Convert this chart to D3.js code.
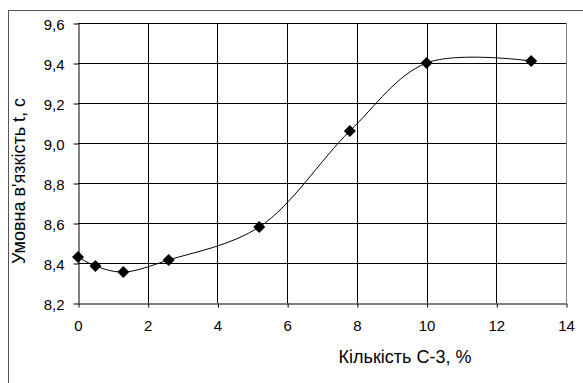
<!DOCTYPE html>
<html>
<head>
<meta charset="utf-8">
<script src="https://cdn.jsdelivr.net/npm/d3@7"></script>
<style>
  body { margin: 0; background: #fff; }
  svg { font-family: "Liberation Sans", Arial, sans-serif; }
</style>
</head>
<body>
<div id="chart"></div>
<script>
// values
var xValues = [0, 0.5, 1.3, 2.6, 5.2, 7.8, 10, 13];
var yValues = [8.43, 8.385, 8.355, 8.415, 8.58, 9.06, 9.40, 9.41];
var xTicks = [0, 2, 4, 6, 8, 10, 12, 14];
var yTicks = [8.2, 8.4, 8.6, 8.8, 9.0, 9.2, 9.4, 9.6];
var xTitle = "Кількість С-3, %";
var yTitle = "Умовна в'язкість t, с";

var chartWidth = 583, chartHeight = 383;
var margin = {top: 23, right: 17, bottom: 80, left: 78},
    width  = chartWidth - margin.left - margin.right,
    height = chartHeight - margin.top - margin.bottom;

var svg = d3.select("#chart").append("svg")
    .attr("width", chartWidth)
    .attr("height", chartHeight);

// outer chart frame (cropped on the right and bottom)
svg.append("rect")
    .attr("x", 8.5).attr("y", 10.5)
    .attr("width", 600).attr("height", 400)
    .attr("fill", "none")
    .attr("stroke", "#555")
    .attr("stroke-width", 1);

var g = svg.append("g")
    .attr("transform", "translate(" + margin.left + "," + margin.top + ")");

var x = d3.scaleLinear().domain([0, 14]).range([0, width]);
var y = d3.scaleLinear().domain([8.2, 9.6]).range([height, 0]);

var fmt = function(d) { return d3.format(".1f")(d).replace(".", ","); };

// grid lines
g.append("g").selectAll("line.h")
    .data(yTicks.slice(1))
  .enter().append("line")
    .attr("x1", 0).attr("x2", width)
    .attr("y1", function(d) { return Math.round(y(d)) + 0.5; })
    .attr("y2", function(d) { return Math.round(y(d)) + 0.5; })
    .attr("stroke", "#000");

g.append("g").selectAll("line.v")
    .data(xTicks.slice(1, -1))
  .enter().append("line")
    .attr("y1", 0).attr("y2", height)
    .attr("x1", function(d) { return Math.round(x(d)) + 0.5; })
    .attr("x2", function(d) { return Math.round(x(d)) + 0.5; })
    .attr("stroke", "#000");

// right border of plot area
g.append("line")
    .attr("x1", width + 0.5).attr("x2", width + 0.5)
    .attr("y1", 0).attr("y2", height)
    .attr("stroke", "#808080");

// axes
var xAxis = g.append("g")
    .attr("transform", "translate(0," + (height + 0.5) + ")")
    .call(d3.axisBottom(x).tickValues(xTicks).tickSize(4).tickSizeOuter(0).tickPadding(13).tickFormat(d3.format("d")));

var yAxis = g.append("g")
    .attr("transform", "translate(0.5,0)")
    .call(d3.axisLeft(y).tickValues(yTicks).tickSize(5).tickSizeOuter(0).tickPadding(9).tickFormat(fmt));

[xAxis, yAxis].forEach(function(a) {
  a.select(".domain").attr("stroke", "#000");
  a.selectAll(".tick line").attr("stroke", "#000");
  a.selectAll("text").attr("fill", "#000").style("font-size", "15px")
      .style("font-family", "'Liberation Sans', Arial, sans-serif");
});
yAxis.selectAll("text").attr("dy", "0.42em");
xAxis.selectAll(".tick line").attr("transform", "translate(0.5,0)");
yAxis.selectAll(".tick line").attr("transform", "translate(0,0.5)");

// smoothed curve
var pts = xValues.map(function(v, i) { return [v, yValues[i]]; });
var line = d3.line()
    .x(function(d) { return x(d[0]); })
    .y(function(d) { return y(d[1]); })
    .curve(d3.curveCatmullRom.alpha(0.5));

g.append("path")
    .datum(pts)
    .attr("d", line)
    .attr("fill", "none")
    .attr("stroke", "#000")
    .attr("stroke-width", 1);

// diamond markers
var sym = d3.symbol().type(d3.symbolSquare).size(72);
g.selectAll("path.marker")
    .data(pts)
  .enter().append("path")
    .attr("class", "marker")
    .attr("d", sym)
    .attr("transform", function(d) { return "translate(" + x(d[0]) + "," + y(d[1]) + ") rotate(45)"; })
    .attr("fill", "#000");

// titles
svg.append("text")
    .attr("x", 405).attr("y", 363)
    .attr("text-anchor", "middle")
    .style("font-size", "18px")
    .text(xTitle);

svg.append("text")
    .attr("transform", "translate(25,181) rotate(-90)")
    .attr("text-anchor", "middle")
    .style("font-size", "18px")
    .text(yTitle);
</script>
</body>
</html>
